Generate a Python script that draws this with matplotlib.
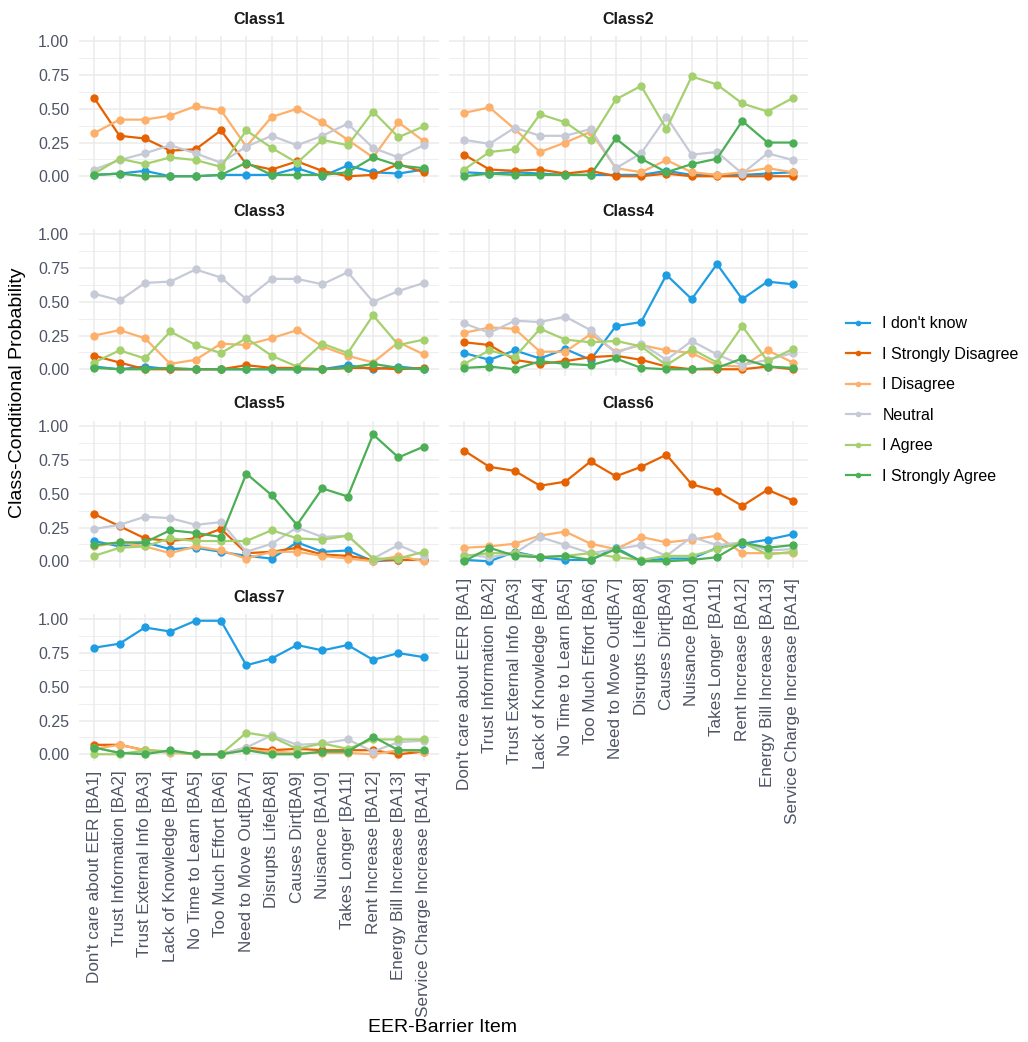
import matplotlib
matplotlib.use("Agg")
import matplotlib.pyplot as plt
from matplotlib.lines import Line2D
import numpy as np

plt.rcParams['font.family'] = ['Liberation Sans', 'DejaVu Sans']

items = ["Don't care about EER [BA1]", "Trust Information [BA2]", "Trust External Info [BA3]",
         "Lack of Knowledge [BA4]", "No Time to Learn [BA5]", "Too Much Effort [BA6]",
         "Need to Move Out[BA7]", "Disrupts Life[BA8]", "Causes Dirt[BA9]", "Nuisance [BA10]",
         "Takes Longer [BA11]", "Rent Increase [BA12]", "Energy Bill Increase [BA13]",
         "Service Charge Increase [BA14]"]
responses = ["I don't know", "I Strongly Disagree", "I Disagree", "Neutral", "I Agree", "I Strongly Agree"]
colors = ["#1E9DE3", "#E66100", "#FDB06A", "#C6CAD6", "#A5D06E", "#4CAF55"]

class1 = {
    "I don't know":        [0.01, 0.02, 0.04, 0.00, 0.00, 0.01, 0.01, 0.01, 0.06, 0.00, 0.08, 0.03, 0.02, 0.05],
    "I Strongly Disagree": [0.58, 0.30, 0.28, 0.19, 0.20, 0.34, 0.09, 0.05, 0.11, 0.04, 0.00, 0.01, 0.09, 0.03],
    "I Disagree":          [0.32, 0.42, 0.42, 0.45, 0.52, 0.49, 0.22, 0.44, 0.50, 0.40, 0.27, 0.14, 0.40, 0.26],
    "Neutral":             [0.05, 0.12, 0.17, 0.23, 0.17, 0.10, 0.22, 0.30, 0.23, 0.30, 0.39, 0.21, 0.14, 0.23],
    "I Agree":             [0.02, 0.13, 0.09, 0.14, 0.12, 0.07, 0.34, 0.21, 0.10, 0.27, 0.23, 0.48, 0.29, 0.37],
    "I Strongly Agree":    [0.01, 0.02, 0.00, 0.00, 0.00, 0.01, 0.10, 0.01, 0.01, 0.01, 0.03, 0.14, 0.08, 0.06],
}
class2 = {
    "I don't know":        [0.03, 0.02, 0.03, 0.02, 0.01, 0.01, 0.01, 0.01, 0.04, 0.01, 0.01, 0.01, 0.02, 0.03],
    "I Strongly Disagree": [0.16, 0.05, 0.04, 0.05, 0.02, 0.04, 0.00, 0.00, 0.02, 0.00, 0.00, 0.00, 0.00, 0.00],
    "I Disagree":          [0.47, 0.51, 0.35, 0.18, 0.25, 0.33, 0.06, 0.03, 0.12, 0.03, 0.01, 0.03, 0.06, 0.03],
    "Neutral":             [0.27, 0.24, 0.36, 0.30, 0.30, 0.35, 0.06, 0.17, 0.44, 0.16, 0.18, 0.02, 0.17, 0.12],
    "I Agree":             [0.05, 0.18, 0.20, 0.46, 0.40, 0.27, 0.57, 0.67, 0.35, 0.74, 0.68, 0.54, 0.48, 0.58],
    "I Strongly Agree":    [0.00, 0.02, 0.01, 0.01, 0.01, 0.01, 0.28, 0.13, 0.03, 0.09, 0.13, 0.41, 0.25, 0.25],
}
class3 = {
    "I don't know":        [0.02, 0.00, 0.02, 0.00, 0.00, 0.00, 0.00, 0.00, 0.00, 0.00, 0.03, 0.00, 0.02, 0.00],
    "I Strongly Disagree": [0.10, 0.05, 0.00, 0.00, 0.00, 0.00, 0.03, 0.01, 0.01, 0.00, 0.01, 0.01, 0.00, 0.01],
    "I Disagree":          [0.25, 0.29, 0.23, 0.04, 0.07, 0.19, 0.18, 0.23, 0.29, 0.17, 0.10, 0.05, 0.20, 0.11],
    "Neutral":             [0.56, 0.51, 0.64, 0.65, 0.74, 0.68, 0.52, 0.67, 0.67, 0.63, 0.72, 0.50, 0.58, 0.64],
    "I Agree":             [0.05, 0.14, 0.08, 0.28, 0.18, 0.12, 0.23, 0.10, 0.02, 0.19, 0.12, 0.40, 0.18, 0.22],
    "I Strongly Agree":    [0.01, 0.00, 0.00, 0.01, 0.00, 0.00, 0.00, 0.00, 0.00, 0.00, 0.01, 0.04, 0.01, 0.00],
}
class4 = {
    "I don't know":        [0.12, 0.07, 0.14, 0.08, 0.15, 0.07, 0.32, 0.35, 0.70, 0.52, 0.78, 0.52, 0.65, 0.63],
    "I Strongly Disagree": [0.20, 0.18, 0.07, 0.04, 0.06, 0.09, 0.10, 0.07, 0.02, 0.00, 0.00, 0.00, 0.02, 0.00],
    "I Disagree":          [0.27, 0.31, 0.30, 0.13, 0.13, 0.26, 0.13, 0.18, 0.14, 0.12, 0.03, 0.02, 0.14, 0.05],
    "Neutral":             [0.34, 0.27, 0.36, 0.35, 0.39, 0.29, 0.12, 0.19, 0.07, 0.21, 0.11, 0.03, 0.07, 0.12],
    "I Agree":             [0.04, 0.14, 0.09, 0.30, 0.22, 0.20, 0.21, 0.17, 0.03, 0.15, 0.05, 0.32, 0.06, 0.15],
    "I Strongly Agree":    [0.01, 0.02, 0.00, 0.06, 0.04, 0.03, 0.08, 0.01, 0.00, 0.00, 0.01, 0.08, 0.02, 0.01],
}
class5 = {
    "I don't know":        [0.15, 0.11, 0.14, 0.09, 0.10, 0.07, 0.04, 0.02, 0.14, 0.07, 0.08, 0.00, 0.01, 0.01],
    "I Strongly Disagree": [0.35, 0.26, 0.17, 0.15, 0.17, 0.24, 0.06, 0.07, 0.10, 0.05, 0.04, 0.01, 0.01, 0.01],
    "I Disagree":          [0.11, 0.14, 0.11, 0.06, 0.11, 0.08, 0.02, 0.07, 0.07, 0.04, 0.02, 0.00, 0.04, 0.00],
    "Neutral":             [0.24, 0.27, 0.33, 0.32, 0.27, 0.29, 0.07, 0.13, 0.25, 0.18, 0.19, 0.02, 0.12, 0.04],
    "I Agree":             [0.04, 0.10, 0.11, 0.17, 0.15, 0.15, 0.15, 0.23, 0.17, 0.16, 0.19, 0.02, 0.02, 0.07],
    "I Strongly Agree":    [0.12, 0.14, 0.14, 0.23, 0.21, 0.18, 0.65, 0.49, 0.27, 0.54, 0.48, 0.94, 0.77, 0.85],
}
class6 = {
    "I don't know":        [0.01, 0.00, 0.07, 0.03, 0.01, 0.01, 0.10, 0.00, 0.02, 0.02, 0.10, 0.13, 0.16, 0.20],
    "I Strongly Disagree": [0.82, 0.70, 0.67, 0.56, 0.59, 0.74, 0.63, 0.70, 0.79, 0.57, 0.52, 0.41, 0.53, 0.45],
    "I Disagree":          [0.10, 0.11, 0.13, 0.19, 0.22, 0.13, 0.09, 0.18, 0.14, 0.16, 0.19, 0.06, 0.06, 0.06],
    "Neutral":             [0.05, 0.03, 0.06, 0.18, 0.12, 0.06, 0.09, 0.12, 0.04, 0.18, 0.12, 0.14, 0.08, 0.09],
    "I Agree":             [0.04, 0.06, 0.06, 0.03, 0.04, 0.06, 0.03, 0.01, 0.04, 0.04, 0.09, 0.14, 0.05, 0.07],
    "I Strongly Agree":    [0.00, 0.10, 0.04, 0.03, 0.04, 0.01, 0.09, 0.00, 0.00, 0.01, 0.03, 0.14, 0.10, 0.12],
}
class7 = {
    "I don't know":        [0.79, 0.82, 0.94, 0.91, 0.99, 0.99, 0.66, 0.71, 0.81, 0.77, 0.81, 0.70, 0.75, 0.72],
    "I Strongly Disagree": [0.07, 0.07, 0.03, 0.02, 0.00, 0.00, 0.05, 0.03, 0.04, 0.03, 0.03, 0.03, 0.00, 0.02],
    "I Disagree":          [0.04, 0.07, 0.03, 0.01, 0.00, 0.00, 0.03, 0.02, 0.01, 0.01, 0.01, 0.00, 0.03, 0.02],
    "Neutral":             [0.05, 0.01, 0.01, 0.02, 0.00, 0.00, 0.05, 0.14, 0.07, 0.08, 0.11, 0.02, 0.09, 0.10],
    "I Agree":             [0.00, 0.00, 0.03, 0.02, 0.00, 0.00, 0.16, 0.13, 0.04, 0.08, 0.04, 0.11, 0.11, 0.11],
    "I Strongly Agree":    [0.05, 0.01, 0.00, 0.03, 0.00, 0.00, 0.03, 0.00, 0.00, 0.02, 0.02, 0.13, 0.03, 0.03],
}
classes = [("Class1", class1), ("Class2", class2), ("Class3", class3), ("Class4", class4),
           ("Class5", class5), ("Class6", class6), ("Class7", class7)]

W, H = 1028, 1042
fig = plt.figure(figsize=(W / 100, H / 100), dpi=100)

col_x = [(79, 439), (449, 808)]
row_top = [36, 229, 421, 614]
ph = 147
tick_col = "#4F5566"
grid_col = "#EBEBEB"
x = np.arange(1, len(items) + 1)

for i, (name, data) in enumerate(classes):
    r, c = divmod(i, 2)
    x0, x1 = col_x[c]
    top = row_top[r]
    ax = fig.add_axes([x0 / W, 1 - (top + ph) / H, (x1 - x0) / W, ph / H])
    ax.set_xlim(0.4, len(items) + 0.6)
    ax.set_ylim(-0.05, 1.04)
    ax.set_yticks([0, 0.25, 0.5, 0.75, 1.0])
    ax.set_yticks([0.125, 0.375, 0.625, 0.875], minor=True)
    ax.set_xticks(x)
    ax.grid(True, which='major', color=grid_col, linewidth=1.1)
    ax.grid(True, which='minor', axis='y', color=grid_col, linewidth=0.6)
    ax.set_axisbelow(True)
    for s in ax.spines.values():
        s.set_visible(False)
    ax.tick_params(which='both', length=0, labelcolor=tick_col)
    ax.tick_params(axis='y', labelsize=11.5, pad=7)
    ax.tick_params(axis='x', labelsize=12.3, pad=7)
    for resp, col in zip(responses, colors):
        ax.plot(x, data[resp], color=col, linewidth=1.6, marker='o', markersize=5, zorder=3)
    ax.set_title(name, fontsize=11.5, fontweight='bold', color="#1A1A1A", pad=9)
    if c == 0:
        ax.set_yticklabels(["0.00", "0.25", "0.50", "0.75", "1.00"])
    else:
        ax.set_yticklabels([])
    if name in ("Class6", "Class7"):
        ax.set_xticklabels(items, rotation=90, ha='center', va='top')
    else:
        ax.set_xticklabels([])

fig.text(18 / W, 1 - 393 / H, "Class-Conditional Probability", rotation=90,
         ha='center', va='center', fontsize=14, color='black')
fig.text(443 / W, 1 - 1028 / H, "EER-Barrier Item", ha='center', va='center',
         fontsize=14, color='black')

handles = [Line2D([0], [0], color=col, linewidth=1.6, marker='o', markersize=3) for col in colors]
fig.legend(handles, responses, loc='center left', bbox_to_anchor=(832 / W, 1 - 400 / H),
           frameon=False, fontsize=11.5, labelspacing=0.97, handlelength=1.5,
           handletextpad=0.75)

fig.savefig("out.png", dpi=100)
